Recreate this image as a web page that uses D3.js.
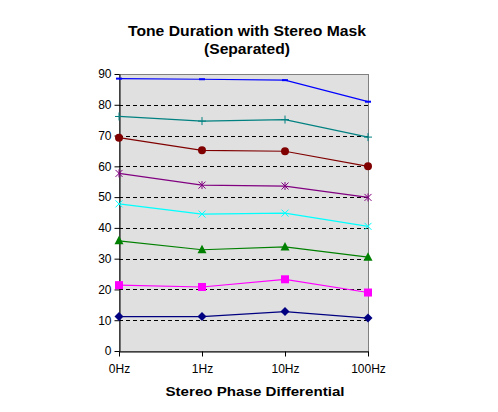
<!DOCTYPE html>
<html>
<head>
<meta charset="utf-8">
<script src="https://cdn.jsdelivr.net/npm/d3@7"></script>
<style>
  body { margin: 0; background: #fff; }
  svg { display: block; font-family: "Liberation Sans", Arial, sans-serif; }
</style>
</head>
<body>
<div id="chart"></div>
<script>
// Data
const categories = ["0Hz", "1Hz", "10Hz", "100Hz"];
const yTicks = [0, 10, 20, 30, 40, 50, 60, 70, 80, 90];

const s1 = [88.5, 88.3, 88.0, 81.0];
const s2 = [76.2, 74.7, 75.2, 69.5];
const s3 = [69.3, 65.2, 64.9, 60.0];
const s4 = [57.7, 53.9, 53.6, 49.9];
const s5 = [47.8, 44.5, 44.8, 40.5];
const s6 = [35.8, 32.9, 33.8, 30.5];
const s7 = [21.4, 20.8, 23.3, 19.0];
const s8 = [11.2, 11.2, 12.8, 10.7];

const series = [
  { values: s1, color: "#0000ff", marker: "dash" },
  { values: s2, color: "#008080", marker: "plus" },
  { values: s3, color: "#800000", marker: "circle" },
  { values: s4, color: "#800080", marker: "star" },
  { values: s5, color: "#00ffff", marker: "cross" },
  { values: s6, color: "#008000", marker: "triangle" },
  { values: s7, color: "#ff00ff", marker: "square" },
  { values: s8, color: "#000080", marker: "diamond" }
];

// Dimensions
const W = 498, H = 412;
const margin = { top: 74, right: 130, bottom: 61, left: 119 };
const width = W - margin.left - margin.right;
const height = H - margin.top - margin.bottom;

const svg = d3.select("#chart").append("svg")
  .attr("width", W)
  .attr("height", H);

const g = svg.append("g")
  .attr("transform", `translate(${margin.left},${margin.top})`);

// Scales
const x = d3.scalePoint()
  .domain(categories)
  .range([0, width]);

const y = d3.scaleLinear()
  .domain([0, 90])
  .range([height, 0]);

// Plot background
g.append("rect")
  .attr("width", width)
  .attr("height", height)
  .attr("fill", "#e0e0e0")
  .attr("stroke", "#808080")
  .attr("stroke-width", 1)
  .attr("shape-rendering", "crispEdges");

// Dashed gridlines
g.selectAll(".grid")
  .data(yTicks.filter(d => d > 0 && d < 90))
  .enter().append("line")
  .attr("x1", 0)
  .attr("x2", width)
  .attr("y1", d => Math.round(y(d)) + 0.5)
  .attr("y2", d => Math.round(y(d)) + 0.5)
  .attr("stroke", "#000")
  .attr("stroke-dasharray", "4,3")
  .attr("stroke-width", 1);

// Y axis
const yAxis = g.append("g")
  .attr("transform", "translate(0.5,0)")
  .call(d3.axisLeft(y).tickValues(yTicks).tickSize(5).tickPadding(3).tickSizeOuter(0));
yAxis.select(".domain").attr("stroke", "#000");
yAxis.selectAll(".tick text")
  .style("font-size", "12px")
  .style("font-family", "'Liberation Sans', Arial, sans-serif")
  .attr("fill", "#000");

// X axis
const xAxis = g.append("g")
  .attr("transform", `translate(0,${height + 0.5})`)
  .call(d3.axisBottom(x).tickSize(5).tickPadding(8).tickSizeOuter(0));
xAxis.select(".domain").attr("stroke", "#000");
xAxis.selectAll(".tick text")
  .style("font-size", "12px")
  .style("font-family", "'Liberation Sans', Arial, sans-serif")
  .attr("fill", "#000");

// Lines
const line = d3.line()
  .x((d, i) => x(categories[i]))
  .y(d => y(d));

g.selectAll(".series")
  .data(series)
  .enter().append("path")
  .attr("class", "series")
  .attr("fill", "none")
  .attr("stroke", d => d.color)
  .attr("stroke-width", 1.2)
  .attr("d", d => line(d.values));

// Markers
function drawMarker(sel, type, color) {
  if (type === "circle") {
    sel.append("circle").attr("r", 4).attr("fill", color);
  } else if (type === "square") {
    sel.append("rect").attr("x", -4).attr("y", -4).attr("width", 8).attr("height", 8).attr("fill", color);
  } else if (type === "triangle") {
    sel.append("path").attr("d", "M0,-5L4.5,3.5L-4.5,3.5Z").attr("fill", color);
  } else if (type === "diamond") {
    sel.append("path").attr("d", "M0,-4.5L4.5,0L0,4.5L-4.5,0Z").attr("fill", color);
  } else if (type === "dash") {
    sel.append("rect").attr("x", -3).attr("y", -1).attr("width", 6).attr("height", 2).attr("fill", color);
  } else if (type === "plus") {
    sel.append("path").attr("d", "M0,-4V4M-4,0H4").attr("stroke", color).attr("stroke-width", 1);
  } else if (type === "cross") {
    sel.append("path").attr("d", "M-3.5,-3.5L3.5,3.5M-3.5,3.5L3.5,-3.5").attr("stroke", color).attr("stroke-width", 1);
  } else if (type === "star") {
    sel.append("path").attr("d", "M-3.5,-3.5L3.5,3.5M-3.5,3.5L3.5,-3.5M0,-4V4").attr("stroke", color).attr("stroke-width", 1);
  }
}

series.forEach(s => {
  s.values.forEach((v, i) => {
    const m = g.append("g")
      .attr("transform", `translate(${x(categories[i])},${y(v)})`);
    drawMarker(m, s.marker, s.color);
  });
});

// Title
const title = svg.append("text")
  .attr("text-anchor", "middle")
  .style("font-size", "15px")
  .style("font-weight", "bold")
  .attr("fill", "#000");
title.append("tspan").attr("x", 247).attr("y", 36)
  .attr("textLength", 238).attr("lengthAdjust", "spacingAndGlyphs")
  .text("Tone Duration with Stereo Mask");
title.append("tspan").attr("x", 247).attr("y", 54)
  .attr("textLength", 86).attr("lengthAdjust", "spacingAndGlyphs")
  .text("(Separated)");

// X axis title
svg.append("text")
  .attr("x", 255)
  .attr("y", 396)
  .attr("text-anchor", "middle")
  .style("font-size", "12.5px")
  .style("font-weight", "bold")
  .attr("textLength", 179)
  .attr("lengthAdjust", "spacingAndGlyphs")
  .attr("fill", "#000")
  .text("Stereo Phase Differential");
</script>
</body>
</html>
